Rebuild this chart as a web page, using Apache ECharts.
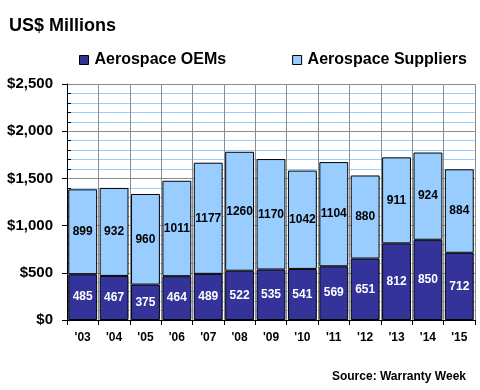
<!DOCTYPE html>
<html>
<head>
<meta charset="utf-8">
<script src="https://cdn.jsdelivr.net/npm/echarts@6/dist/echarts.min.js"></script>
<style>html,body{margin:0;padding:0;background:#fff}#c{width:480px;height:390px}</style>
</head>
<body>
<div id="c"></div>
<script>
const years = ["'03","'04","'05","'06","'07","'08","'09","'10","'11","'12","'13","'14","'15"];
const oems = [485,467,375,464,489,522,535,541,569,651,812,850,712];
const suppliers = [899,932,960,1011,1177,1260,1170,1042,1104,880,911,924,884];
const yTicks = [0,500,1000,1500,2000,2500];

const chart = echarts.init(document.getElementById('c'), null, {renderer:'canvas'});
const F = 'Arial, "Liberation Sans", sans-serif';
chart.setOption({
  animation:false,
  backgroundColor:'#fff',
  title:[
    {text:'US$ Millions', left:4, top:12, textStyle:{fontFamily:F, fontSize:18, fontWeight:'bold', color:'#000'}},
    {text:'Source: Warranty Week', right:9, top:366, textStyle:{fontFamily:F, fontSize:12, fontWeight:'bold', color:'#000'}}
  ],
  legend:{
    left:74, top:47, itemWidth:9, itemHeight:9, itemGap:66,
    icon:'rect',
    itemStyle:{borderColor:'#000', borderWidth:1},
    textStyle:{fontFamily:F, fontSize:16, fontWeight:'bold', color:'#000', padding:[0,0,0,1]},
    data:['Aerospace OEMs','Aerospace Suppliers']
  },
  grid:{left:67, right:5, top:84, bottom:70},
  xAxis:{
    type:'category', data:years, boundaryGap:true,
    axisLine:{lineStyle:{color:'#000', width:1}},
    axisTick:{show:true, length:5, lineStyle:{color:'#000'}},
    axisLabel:{margin:12, fontFamily:F, fontSize:12, fontWeight:'bold', color:'#000'},
    splitLine:{show:true, lineStyle:{color:'#8c8c8c', width:1}}
  },
  yAxis:{
    type:'value', min:0, max:2500, interval:500,
    axisLine:{show:true, lineStyle:{color:'#000', width:1}},
    axisTick:{show:true, length:5, lineStyle:{color:'#000'}},
    minorTick:{show:true, splitNumber:5, length:-4, lineStyle:{color:'#000'}},
    minorSplitLine:{show:true, lineStyle:{color:'#99ccff', width:1}},
    splitLine:{show:true, lineStyle:{color:'#8c8c8c', width:1}},
    axisLabel:{margin:14, fontFamily:F, fontSize:15, fontWeight:'bold', color:'#000',
      formatter:v => '$' + v.toLocaleString('en-US')}
  },
  series:[
    {name:'Aerospace OEMs', type:'bar', stack:'a', data:oems, barCategoryGap:'8%',
     itemStyle:{color:'#333399', borderColor:'#000', borderWidth:1},
     label:{show:true, position:'inside', fontFamily:F, fontSize:12, fontWeight:'bold', color:'#fff'}},
    {name:'Aerospace Suppliers', type:'bar', stack:'a', data:suppliers, barCategoryGap:'8%',
     itemStyle:{color:'#99ccff', borderColor:'#000', borderWidth:1},
     label:{show:true, position:'inside', fontFamily:F, fontSize:12, fontWeight:'bold', color:'#000'}}
  ]
});
</script>
</body>
</html>
